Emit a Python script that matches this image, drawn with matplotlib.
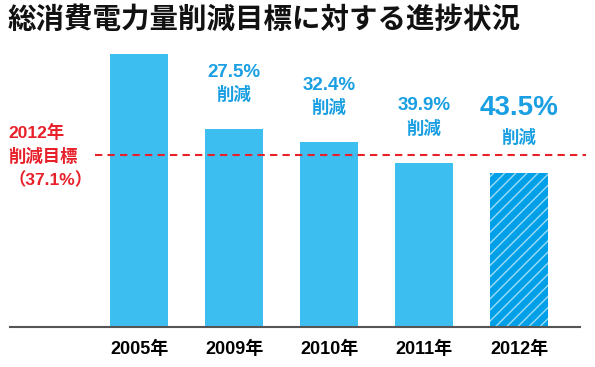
import matplotlib
matplotlib.use("Agg")
import matplotlib.pyplot as plt

plt.rcParams["font.family"] = ["Liberation Sans", "Noto Sans CJK JP", "DejaVu Sans"]
plt.rcParams["hatch.linewidth"] = 1.0
plt.rcParams["hatch.color"] = "#9edcf7"

years = ["2005年", "2009年", "2010年", "2011年", "2012年"]
usage = [100.0, 72.5, 67.6, 60.1, 56.5]  # 2005 = 100
reduction = [None, "27.5%", "32.4%", "39.9%", "43.5%"]
target = 100 - 37.1

bar_color = "#3dbef0"
last_color = "#00a0e9"
text_blue = "#1a9fe3"
red = "#e8202a"

fig = plt.figure(figsize=(5.95, 3.67), dpi=100)
ax = fig.add_axes([10 / 595, 40 / 367, 570 / 595, 287 / 367])

x = list(range(len(years)))
ax.bar(x[:-1], usage[:-1], width=0.61, color=bar_color, linewidth=0)
ax.bar(x[-1], usage[-1], width=0.61, color=last_color, edgecolor="#9edcf7",
       linewidth=0, hatch="///")

ax.set_xlim(-1.358, 4.642)
ax.set_ylim(0, 105.1)

# target line
ax.plot([-0.463, 4.705], [target, target], color=red, lw=1.5,
        ls=(0, (3.5, 2.5)), clip_on=False, zorder=3)

for xi, v, r in zip(x, usage, reduction):
    if r is None:
        continue
    big = xi == len(years) - 1
    ax.annotate(r, (xi, v), xytext=(0, 65 if big else 57),
                textcoords="offset pixels", ha="center", va="center",
                fontsize=20 if big else 13.5, fontweight="bold", color=text_blue)
    ax.annotate("削減", (xi, v), xytext=(0, 35),
                textcoords="offset pixels", ha="center", va="center",
                fontsize=12.5, fontweight="bold", color=text_blue)

for i, line in enumerate(["2012年", "削減目標", "（37.1%）"]):
    fig.text(8 / 595, 1 - (133 + 23.5 * i) / 367, line, ha="left", va="center",
             fontsize=12.5, fontweight="bold", color=red)

ax.set_xticks(x)
ax.set_xticklabels(years, fontsize=13, fontweight="bold")
ax.tick_params(axis="x", length=0, pad=10)
ax.set_yticks([])
for s in ["left", "right", "top"]:
    ax.spines[s].set_visible(False)
ax.spines["bottom"].set_color("#555555")
ax.spines["bottom"].set_linewidth(1.5)

fig.text(8 / 595, 1 - 20 / 367, "総消費電力量削減目標に対する進捗状況",
         ha="left", va="center", fontsize=20.5, fontweight="bold", color="#111111")

fig.savefig("out.png", dpi=100)
plt.close(fig)
